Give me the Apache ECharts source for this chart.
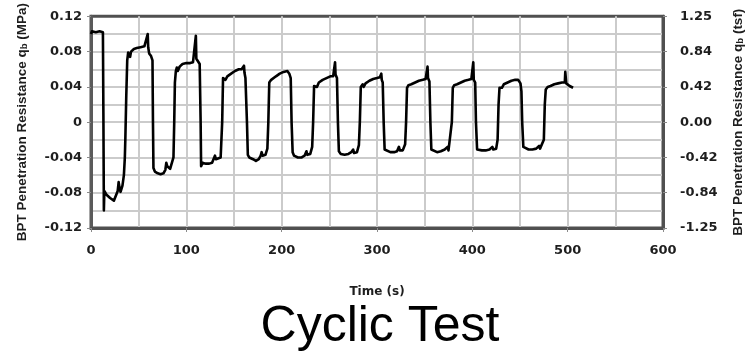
<!DOCTYPE html>
<html><head><meta charset="utf-8">
<script src="https://cdn.jsdelivr.net/npm/echarts@6/dist/echarts.min.js"></script>
<style>html,body{margin:0;padding:0;background:#fff}#c{width:753px;height:352px}</style>
</head><body><div id="c"></div>
<script>
const timeS = [
 0,1,2,3,5,7,9,11,12.5,
 13,13.5,14,16,18,20,22,24,26,28,29,30,31,33,34.5,35.5,36,37,38,39,40,41,42,45,48,52,56,58,59.5,60,61,63,64.5,
 65,65.5,67,70,73,76,78,79,80,83,85,86.5,87.3,88,89,90,91,93,96,100,104,107,109,110,110.5,112,114,
 115,115.5,117,120,124,127,129,130,131,133,136,137.6,138.5,140,141,143,147,151,155,158,160,160.5,161,162,
 163.6,164.5,166,170,173,176,178,179,180,183,185,186,187,189,191,194,198,202,206,207,208,209.5,
 210.4,211.5,213,217,221,224,226,227,230,232,233,234,236,237,239,243,247,251,254,255.5,256,256.5,258,
 259,260,262,266,270,273,275,276,279,281,282,283,285,286,288,292,296,300,303,304.5,305,306,
 307,308,310,314,318,321,323,324,327,329.5,330.5,331.5,333,334,336,340,344,348,351,352.5,353,353.5,355,
 356,357,359,363,367,371,374,375,377,378.5,379.5,381,382,384,388,392,396,399,400.5,401,401.5,403,
 403.8,405,407,410,414,418,421,422,425,426.5,427.5,428.5,430,431,433,437,441,445,448,449.5,450.5,451.5,
 452.3,453.5,455,459,463,467,470,471,473,475,476,477,479,480,482,486,490,494,497,497.5,498.5,500,502,504,505.7
];
const qbMPa = [
 0.100,0.103,0.101,0.104,0.102,0.104,0.103,0.104,0.102,
 0.010,-0.100,-0.078,-0.082,-0.080,-0.086,-0.085,-0.089,-0.088,-0.078,-0.068,-0.075,-0.079,-0.072,-0.060,-0.040,-0.020,0.030,0.070,0.079,0.077,0.074,0.080,0.083,0.084,0.085,0.086,0.085,0.100,0.085,0.078,0.075,0.070,
 0.000,-0.052,-0.056,-0.058,-0.059,-0.058,-0.054,-0.046,-0.050,-0.053,-0.052,-0.040,0.000,0.045,0.058,0.062,0.058,0.063,0.066,0.067,0.067,0.068,0.070,0.098,0.072,0.070,0.066,
 0.000,-0.050,-0.046,-0.047,-0.047,-0.046,-0.044,-0.038,-0.042,-0.044,-0.040,0.000,0.050,0.052,0.048,0.052,0.055,0.058,0.060,0.060,0.061,0.064,0.056,0.050,
 0.000,-0.037,-0.040,-0.042,-0.044,-0.042,-0.038,-0.034,-0.038,-0.037,-0.030,0.000,0.045,0.048,0.049,0.052,0.055,0.057,0.058,0.059,0.055,0.050,
 0.000,-0.034,-0.038,-0.040,-0.040,-0.038,-0.033,-0.037,-0.036,-0.028,0.000,0.041,0.043,0.040,0.045,0.048,0.050,0.052,0.052,0.054,0.068,0.054,0.050,
 0.000,-0.033,-0.036,-0.037,-0.036,-0.034,-0.031,-0.035,-0.034,-0.026,0.000,0.040,0.043,0.040,0.044,0.047,0.049,0.050,0.051,0.055,0.048,0.045,
 0.000,-0.031,-0.033,-0.034,-0.034,-0.033,-0.028,-0.032,-0.032,-0.025,0.000,0.039,0.042,0.040,0.043,0.045,0.047,0.048,0.049,0.050,0.063,0.050,0.046,
 0.000,-0.031,-0.033,-0.034,-0.033,-0.031,-0.028,-0.032,-0.031,0.000,0.039,0.042,0.040,0.043,0.045,0.047,0.048,0.049,0.050,0.068,0.048,0.045,
 0.000,-0.031,-0.030,-0.032,-0.032,-0.031,-0.028,-0.031,-0.030,-0.020,0.020,0.039,0.041,0.039,0.043,0.045,0.047,0.048,0.048,0.049,0.044,0.035,
 0.000,-0.028,-0.030,-0.031,-0.031,-0.030,-0.027,-0.030,-0.029,-0.020,0.020,0.037,0.040,0.038,0.041,0.043,0.044,0.045,0.045,0.057,0.044,0.042,0.041,0.040,0.039
];
const xLabels = ['0','100','200','300','400','500','600'];
const leftLabels = ['-0.12','-0.08','-0.04','0','0.04','0.08','0.12'];
const rightLabels = ['-1.25','-0.84','-0.42','0.00','0.42','0.84','1.25'];
const titleText = 'Cyclic Test';
const xName = 'Time (s)';
const leftName = 'BPT Penetration Resistance q{sub|b} (MPa)';
const rightName = 'BPT Penetration Resistance q{sub|b} (tsf)';

const pts = timeS.map((t, i) => [t, qbMPa[i]]);
const labelFont = {fontFamily: 'DejaVu Sans', fontWeight: 'bold', fontSize: 13, color: '#1e1e1e'};
const nameStyle = {
  fontFamily: 'Liberation Sans', fontWeight: 'bold', fontSize: 13.5, color: '#1e1e1e',
  rich: {sub: {fontFamily: 'Liberation Sans', fontWeight: 'bold', fontSize: 9.5, color: '#1e1e1e', verticalAlign: 'bottom', lineHeight: 12}}
};
const gridLine = {show: true, showMinLine: false, showMaxLine: false, lineStyle: {color: '#cbcbcb', width: 2}};
const tickStyle = {show: true, inside: false, length: 4, lineStyle: {color: '#8a8a8a', width: 1}};

const chart = echarts.init(document.getElementById('c'), null, {renderer: 'canvas'});
chart.setOption({
  animation: false,
  backgroundColor: '#fff',
  grid: {left: 91, right: 85, top: 15, bottom: 124, show: true, borderColor: '#505050', borderWidth: 3, backgroundColor: 'transparent'},
  graphic: [{
    type: 'text', x: 380, y: 327,
    style: {text: titleText, fontFamily: 'Liberation Sans', fontSize: 50, fill: '#000', textAlign: 'center', textVerticalAlign: 'middle'}
  }],
  xAxis: {
    type: 'value', min: 0, max: 600, interval: 100,
    name: xName, nameLocation: 'middle', nameGap: 58,
    nameTextStyle: {fontFamily: 'DejaVu Sans', fontWeight: 'bold', fontSize: 12, color: '#1e1e1e'},
    axisLine: {show: true, onZero: false, lineStyle: {color: '#505050', width: 3}},
    axisTick: tickStyle,
    axisLabel: Object.assign({margin: 16, formatter: v => xLabels[Math.round(v / 100)]}, labelFont),
    splitLine: gridLine,
    minorTick: {show: false, splitNumber: 2},
    minorSplitLine: {show: true, lineStyle: {color: '#cbcbcb', width: 2}}
  },
  yAxis: [{
    type: 'value', min: -0.12, max: 0.12, interval: 0.04, position: 'left',
    name: leftName, nameLocation: 'middle', nameGap: 62, nameRotate: 90,
    nameTextStyle: nameStyle,
    axisLine: {show: true, onZero: false, lineStyle: {color: '#5a5a5a', width: 3}},
    axisTick: tickStyle,
    axisLabel: Object.assign({margin: 9, formatter: v => leftLabels[Math.round((v + 0.12) / 0.04)]}, labelFont),
    splitLine: gridLine,
    minorTick: {show: false, splitNumber: 2},
    minorSplitLine: {show: true, lineStyle: {color: '#cbcbcb', width: 2}}
  }, {
    type: 'value', min: -3, max: 3, interval: 1, position: 'right',
    name: rightName, nameLocation: 'middle', nameGap: 68, nameRotate: 90,
    nameTextStyle: nameStyle,
    axisLine: {show: true, onZero: false, lineStyle: {color: '#505050', width: 3}},
    axisTick: tickStyle,
    axisLabel: Object.assign({margin: 17, formatter: v => rightLabels[Math.round(v + 3)]}, labelFont),
    splitLine: {show: false}
  }],
  series: [{
    type: 'line', xAxisIndex: 0, yAxisIndex: 0, data: pts,
    showSymbol: false, symbol: 'none',
    lineStyle: {color: '#000', width: 2.6, join: 'round'}
  }]
});
</script></body></html>
